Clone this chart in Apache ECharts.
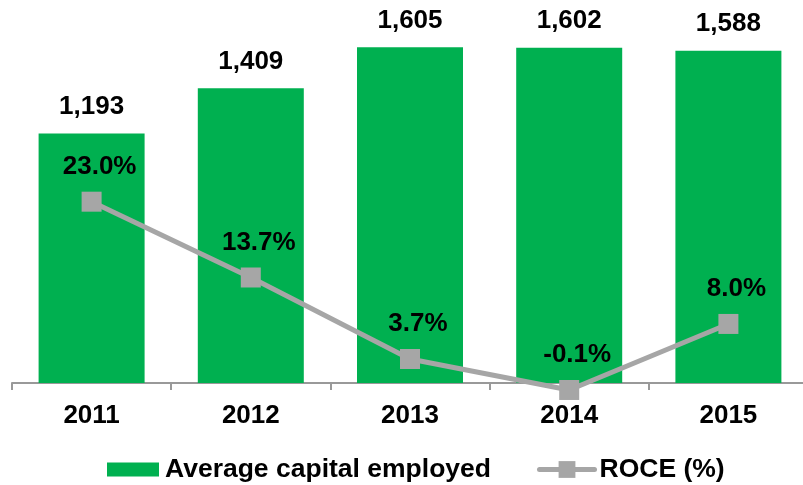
<!DOCTYPE html>
<html>
<head>
<meta charset="utf-8">
<script src="https://cdn.jsdelivr.net/npm/echarts@6/dist/echarts.min.js"></script>
<style>html,body{margin:0;padding:0;background:#fff;overflow:hidden;width:803px;height:485px;}#c{width:810px;height:485px;}</style>
</head>
<body>
<div id="c"></div>
<script>
const categories = ['2011', '2012', '2013', '2014', '2015'];
const capitalEmployed = [1193, 1409, 1605, 1602, 1588];
const roce = [23.0, 13.7, 3.7, -0.1, 8.0];
const seriesNames = ['Average capital employed', 'ROCE (%)'];

const FONT = 'Arial, "Liberation Sans", sans-serif';
const GREEN = '#00B050';
const GRAY = '#A6A6A6';

const chart = echarts.init(document.getElementById('c'), null, {renderer: 'canvas'});
chart.setOption({
  animation: false,
  backgroundColor: '#fff',
  textStyle: {fontFamily: FONT},
  grid: {left: 12, width: 796, top: 20, height: 363, containLabel: false},
  legend: [
    {
      data: [seriesNames[0]],
      left: 107, top: 456, padding: 0,
      itemWidth: 52, itemHeight: 14, itemGap: 0,
      icon: 'rect',
      textStyle: {fontFamily: FONT, fontWeight: 'bold', fontSize: 26.5, color: '#000', padding: [0, 0, 0, 1]}
    },
    {
      data: [seriesNames[1]],
      left: 537, top: 456, padding: 0,
      itemWidth: 55, itemHeight: 21, itemGap: 0,
      lineStyle: {width: 5, cap: 'round', color: GRAY},
      textStyle: {fontFamily: FONT, fontWeight: 'bold', fontSize: 26.5, color: '#000', padding: [0, 0, 0, 0]}
    }
  ],
  xAxis: {
    type: 'category',
    data: categories,
    boundaryGap: true,
    axisLine: {show: true, lineStyle: {color: '#999', width: 2}},
    axisTick: {show: true, length: 7, lineStyle: {color: '#999', width: 2}},
    axisLabel: {fontFamily: FONT, fontWeight: 'bold', fontSize: 26, color: '#000', margin: 20},
    splitLine: {show: false}
  },
  yAxis: [
    {type: 'value', min: 0, max: 1735, show: false, splitLine: {show: false}},
    {type: 'value', min: 0.755, max: 45.29, show: false, splitLine: {show: false}}
  ],
  series: [
    {
      name: seriesNames[0],
      type: 'bar',
      data: capitalEmployed,
      yAxisIndex: 0,
      barWidth: 106,
      itemStyle: {color: GREEN},
      label: {
        show: true, position: 'top', distance: 13.5,
        fontFamily: FONT, fontWeight: 'bold', fontSize: 26, color: '#000',
        formatter: p => p.value.toLocaleString('en-US')
      },
      z: 2
    },
    {
      name: seriesNames[1],
      type: 'line',
      data: roce,
      yAxisIndex: 1,
      clip: false,
      symbol: 'rect',
      symbolSize: 20,
      itemStyle: {color: GRAY},
      lineStyle: {color: GRAY, width: 5},
      label: {
        show: true, position: 'top', distance: 12, offset: [8, 0],
        fontFamily: FONT, fontWeight: 'bold', fontSize: 26, color: '#000',
        formatter: p => p.value.toFixed(1) + '%'
      },
      z: 3
    }
  ]
});
</script>
</body>
</html>
